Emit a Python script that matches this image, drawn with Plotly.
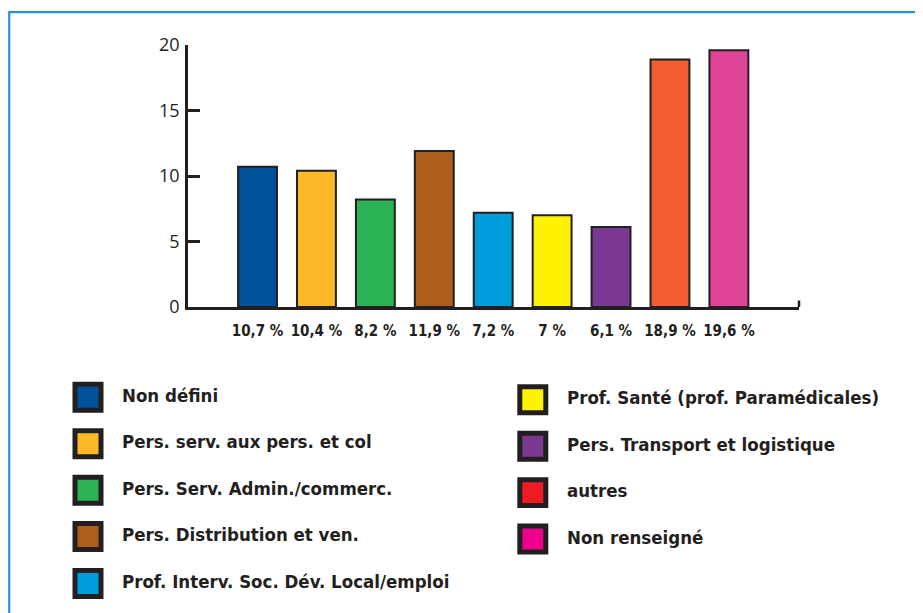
import plotly.graph_objects as go

# ---- data ----
categories = [
    "Non défini",
    "Pers. serv. aux pers. et col",
    "Pers. Serv. Admin./commerc.",
    "Pers. Distribution et ven.",
    "Prof. Interv. Soc. Dév. Local/emploi",
    "Prof. Santé (prof. Paramédicales)",
    "Pers. Transport et logistique",
    "autres",
    "Non renseigné",
]
values = [10.7, 10.4, 8.2, 11.9, 7.2, 7.0, 6.1, 18.9, 19.6]
value_labels = ["10,7 %", "10,4 %", "8,2 %", "11,9 %", "7,2 %", "7 %", "6,1 %", "18,9 %", "19,6 %"]
bar_colors = ["#00529B", "#FDB827", "#2BB355", "#AD5F1A", "#009DDC",
              "#FFF200", "#7A3892", "#F15D2F", "#DE4395"]
legend_colors = ["#00529B", "#FDB827", "#2BB355", "#AD5F1A", "#009DDC",
                 "#FFF200", "#7A3892", "#ED1C24", "#EC008C"]
y_ticks = [0, 5, 10, 15, 20]

INK = "#231F20"
COND = "Liberation Sans Narrow, DejaVu Sans Condensed, Arial Narrow, sans-serif"

OFF = 8  # page body margin
W, H = 923, 613
# plot-area box in screen pixels
SL, SR, ST, SB = 188, 799, 45, 307.5
L, R, T, B = SL - OFF, SR - OFF, ST - OFF, SB - OFF


def px(x):
    return (x - SL) / (SR - SL)


def py(y):
    return (SB - y) / (SB - ST)


positions = list(range(len(values)))

fig = go.Figure()
fig.add_trace(go.Bar(
    x=positions,
    y=values,
    width=0.66,
    marker=dict(color=bar_colors, line=dict(color=INK, width=2)),
    showlegend=False,
    hoverinfo="skip",
))

shapes = []
annotations = []

# outer light-blue frame
shapes.append(dict(type="rect", xref="paper", yref="paper",
                   x0=px(9.2), x1=px(960), y0=py(12), y1=py(660),
                   line=dict(color="#2E90D6", width=2.2), fillcolor="rgba(0,0,0,0)",
                   layer="below"))
# small upward tick at right end of x axis
shapes.append(dict(type="line", xref="paper", yref="paper",
                   x0=1, x1=1, y0=0, y1=py(301),
                   line=dict(color=INK, width=2.5)))

# manual legend (two columns)
left_rows = [398, 444.5, 491, 537.5, 584.5]
right_rows = [400.5, 447, 493.5, 540]
items = [(88, 120, y) for y in left_rows] + [(532.8, 565, y) for y in right_rows]
for (cx, tx, cy), name, col in zip(items, categories, legend_colors):
    shapes.append(dict(type="rect", xref="paper", yref="paper",
                       x0=px(cx - 13), x1=px(cx + 13),
                       y0=py(cy + 13), y1=py(cy - 13),
                       fillcolor=col, line=dict(color=INK, width=5)))
    annotations.append(dict(xref="paper", yref="paper",
                            x=px(tx), y=py(cy - 2),
                            xanchor="left", yanchor="middle",
                            text=name, showarrow=False,
                            font=dict(family=COND, size=18.5, color=INK, weight="bold")))

fig.update_layout(
    width=W, height=H,
    margin=dict(l=L, r=W - R, t=T, b=H - B, autoexpand=False),
    paper_bgcolor="white",
    plot_bgcolor="white",
    shapes=shapes,
    annotations=annotations,
    xaxis=dict(
        range=[-1.18, 9.19],
        tickmode="array",
        tickvals=positions,
        ticktext=value_labels,
        ticks="",
        showgrid=False,
        zeroline=False,
        showline=True,
        linecolor=INK,
        linewidth=2.5,
        tickfont=dict(family=COND, size=15, color=INK, weight="bold"),
        ticklabelstandoff=8,
        fixedrange=True,
    ),
    yaxis=dict(
        range=[0, 20],
        tickmode="array",
        tickvals=y_ticks,
        ticks="inside",
        ticklen=12,
        tickwidth=2.5,
        tickcolor=INK,
        showgrid=False,
        zeroline=False,
        showline=True,
        linecolor=INK,
        linewidth=2.5,
        tickfont=dict(family="Open Sans, sans-serif", size=18, color=INK),
        ticklabelstandoff=2,
        fixedrange=True,
    ),
    bargap=0.3,
)

fig.write_html("out.html")
